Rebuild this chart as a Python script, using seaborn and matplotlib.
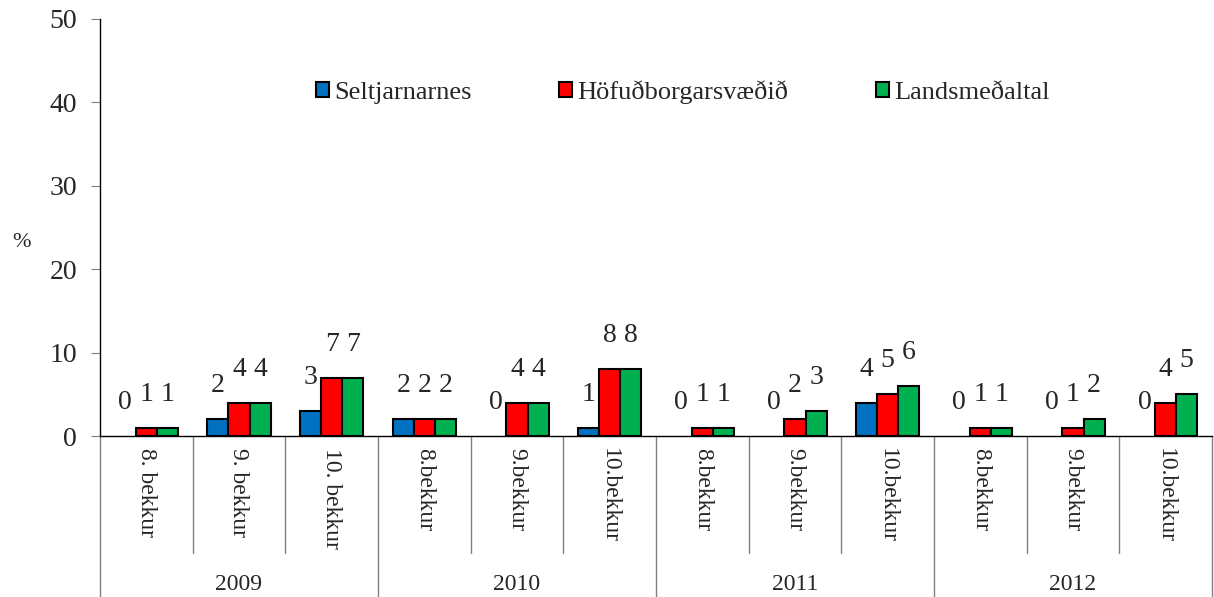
import pandas as pd
import numpy as np
import seaborn as sns
import matplotlib.pyplot as plt
from matplotlib.transforms import blended_transform_factory

ar = ['2009', '2010', '2011', '2012']
bekkir = ['8. bekkur', '9. bekkur', '10. bekkur',
          '8.bekkur', '9.bekkur', '10.bekkur',
          '8.bekkur', '9.bekkur', '10.bekkur',
          '8.bekkur', '9.bekkur', '10.bekkur']
seltjarnarnes = [0, 2, 3, 2, 0, 1, 0, 0, 4, 0, 0, 0]
hofudborg = [1, 4, 7, 2, 4, 8, 1, 2, 5, 1, 1, 4]
landsmedaltal = [1, 4, 7, 2, 4, 8, 1, 3, 6, 1, 2, 5]

series = ['Seltjarnarnes', 'Höfuðborgarsvæðið', 'Landsmeðaltal']
colors = ['#0070C0', '#FF0000', '#00B050']

# long form table, one key per category (grade names repeat between years)
keys = [f'{ar[i // 3]}|{b}' for i, b in enumerate(bekkir)]
rows = []
for name, vals in zip(series, [seltjarnarnes, hofudborg, landsmedaltal]):
    for k, v in zip(keys, vals):
        rows.append({'flokkur': k, 'hopur': name, 'hlutfall': v})
df = pd.DataFrame(rows)

sns.set_style('white')
plt.rcParams['font.family'] = ['Liberation Serif', 'DejaVu Serif']

fig = plt.figure(figsize=(12.14, 5.97), dpi=100)
ax = fig.add_axes([100 / 1214, 1 - 436 / 597, 1112 / 1214, 417 / 597])

sns.barplot(data=df, x='flokkur', y='hlutfall', hue='hopur', order=keys,
            hue_order=series, palette=colors, width=0.68, saturation=1,
            edgecolor='black', linewidth=1.5, ax=ax)

# excel draws nothing for a zero bar
for p in ax.patches:
    if p.get_height() == 0:
        p.set_linewidth(0)

for cont in ax.containers:
    ax.bar_label(cont, fmt='%d', padding=15, fontsize=20)

ax.set_ylim(0, 50)
ax.set_xlim(-0.5, len(keys) - 0.5)
ax.set_yticks(range(0, 51, 10))
ax.tick_params(axis='y', labelsize=20, length=6.5, width=0.8, color='#808080',
               direction='out', left=True, pad=10)
ax.tick_params(axis='x', length=0, pad=9)
ax.set_xticks(range(len(keys)))
ax.set_xticklabels(bekkir, rotation=-90, fontsize=17, va='top', ha='center')
ax.set_xlabel('')
ax.set_ylabel('%', rotation=0, fontsize=16, labelpad=0, va='center', ha='center')
ax.yaxis.set_label_coords(-0.071, 0.463)

for s in ['top', 'right']:
    ax.spines[s].set_visible(False)
for s in ['left', 'bottom']:
    ax.spines[s].set_color('black')
    ax.spines[s].set_linewidth(1)

# two level category axis
tr = blended_transform_factory(ax.transData, ax.transAxes)
for i in range(len(keys) + 1):
    x = i - 0.5
    y_end = -0.386 if i % 3 == 0 else -0.28
    ax.plot([x, x], [0, y_end], color='#808080', lw=1, transform=tr, clip_on=False)
for j, a in enumerate(ar):
    ax.text(j * 3 + 1, -0.355, a, transform=tr, ha='center', va='center', fontsize=17)

leg = ax.legend(loc='center left', bbox_to_anchor=(316 / 1214, 1 - 92 / 597),
                bbox_transform=fig.transFigure, ncol=3, frameon=False, fontsize=19,
                handlelength=0.5, handleheight=0.5, handletextpad=0.2,
                columnspacing=3.3, borderpad=0, borderaxespad=0)
for h in leg.legend_handles:
    h.set_edgecolor('black')
    h.set_linewidth(1.5)

fig.savefig('out.png', dpi=100)
